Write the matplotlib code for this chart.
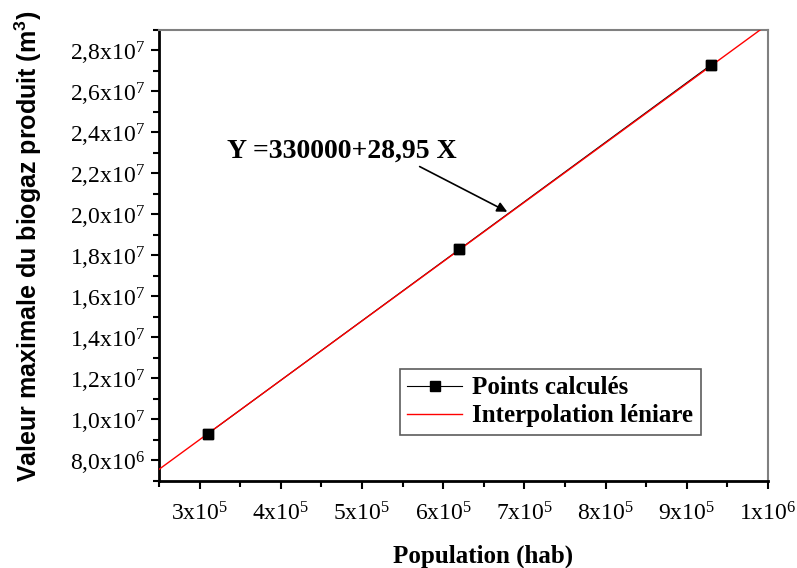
import matplotlib
matplotlib.use("Agg")
import matplotlib.pyplot as plt
from matplotlib.ticker import FixedLocator, MultipleLocator

plt.rcParams["font.family"] = "Liberation Serif"
plt.rcParams["mathtext.default"] = "regular"

# data
population = [3.1e5, 6.2e5, 9.3e5]
biogaz_max = [9.3e6, 1.83e7, 2.73e7]
intercept = 330000
slope = 28.95
fit_x = [2.5e5, 1.0e6]

x_ticks = [3e5, 4e5, 5e5, 6e5, 7e5, 8e5, 9e5, 1e6]
x_labels = ["3x10$^5$", "4x10$^5$", "5x10$^5$", "6x10$^5$", "7x10$^5$",
            "8x10$^5$", "9x10$^5$", "1x10$^6$"]
y_ticks = [8e6, 1e7, 1.2e7, 1.4e7, 1.6e7, 1.8e7, 2e7, 2.2e7, 2.4e7, 2.6e7, 2.8e7]
y_labels = ["8,0x10$^6$", "1,0x10$^7$", "1,2x10$^7$", "1,4x10$^7$", "1,6x10$^7$",
            "1,8x10$^7$", "2,0x10$^7$", "2,2x10$^7$", "2,4x10$^7$", "2,6x10$^7$",
            "2,8x10$^7$"]

fig = plt.figure(figsize=(7.97, 5.68), dpi=100)
ax = fig.add_axes([0.1995, 0.1532, 0.764, 0.794])

fit_y = [intercept + slope * v for v in fit_x]
ax.plot(population, biogaz_max, "k-s", ms=6.5, lw=0.8, label="Points calculés", zorder=2)
ax.plot(fit_x, fit_y, "r-", lw=1, label="Interpolation léniare", zorder=3)
ax.plot(population, biogaz_max, "ks", ms=6.5, zorder=4)

ax.set_xlim(2.5e5, 1e6)
ax.set_ylim(7e6, 2.9e7)
ax.xaxis.set_major_locator(FixedLocator(x_ticks))
ax.set_xticklabels(x_labels)
ax.xaxis.set_minor_locator(MultipleLocator(5e4))
ax.yaxis.set_major_locator(FixedLocator(y_ticks))
ax.set_yticklabels(y_labels)
ax.yaxis.set_minor_locator(MultipleLocator(1e6))

ax.tick_params(which="both", direction="out", width=1.5, labelsize=17,
               top=False, right=False)
ax.tick_params(which="major", length=6)
ax.tick_params(which="minor", length=4)
ax.tick_params(axis="x", pad=9)
ax.tick_params(axis="y", pad=4)

for s in ["left", "bottom"]:
    ax.spines[s].set_linewidth(2)
    ax.spines[s].set_color("black")
for s in ["top", "right"]:
    ax.spines[s].set_linewidth(1.5)
    ax.spines[s].set_color("#808080")

ax.set_xlabel("Population (hab)", fontsize=18, fontweight="bold")
ax.xaxis.set_label_coords(0.533, -0.142)
ax.set_ylabel("Valeur maximale du biogaz produit (m$^3$)", fontsize=18,
              fontweight="bold", family="Liberation Sans")
ax.yaxis.set_label_coords(-0.189, 0.521)

ax.text(3.34e5, 2.276e7, "Y =330000+28,95 X", fontsize=20, fontweight="bold",
        va="baseline")
ax.annotate("", xy=(6.82e5, 2.007e7), xytext=(5.68e5, 2.24e7),
            arrowprops=dict(arrowstyle="-|>", color="k", lw=1.2, mutation_scale=15))

leg = ax.legend(loc="lower left", bbox_to_anchor=(0.395, 0.102),
                borderaxespad=0, prop={"size": 18, "weight": "bold"},
                fancybox=False, frameon=True, handlelength=2.2, borderpad=0.3,
                labelspacing=0.2, handletextpad=0.4)
leg.get_frame().set_edgecolor("#333333")
leg.get_frame().set_linewidth(1.2)

fig.savefig("out.png", dpi=100)
